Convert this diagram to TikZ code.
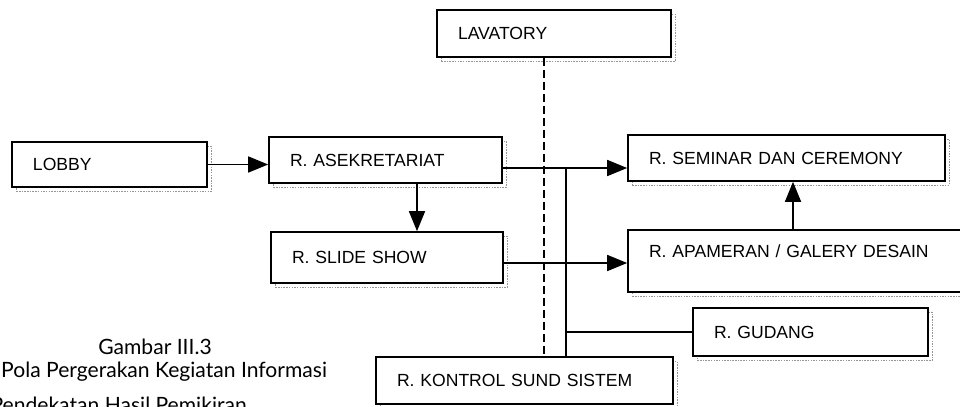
\documentclass[tikz,border=0pt]{standalone}
\usepackage{fontspec}
\setmainfont{Liberation Sans}
\newfontfamily\capfont{Lato}
\usetikzlibrary{arrows.meta,shadows}
\definecolor{ShadowGray}{RGB}{150,150,150}

\begin{document}
\begin{tikzpicture}[x=0.03cm, y=-0.03cm,
    room/.style={rectangle, draw=black, line width=1.4pt, fill=white,
                 inner xsep=0.63cm, inner ysep=0pt, align=left,
                 font=\fontsize{15}{17}\selectfont,
                 drop shadow={opacity=1, fill=none, draw=ShadowGray, densely dotted,
                              line width=1.3pt, shadow xshift=0.13cm, shadow yshift=-0.13cm}},
    arrow/.style={-{Triangle[length=0.6cm, width=0.48cm]}, line width=1.4pt},
    link/.style={line width=1.4pt},
    caption/.style={font=\capfont\fontsize{18}{21}\selectfont, inner sep=0pt}
]
    \useasboundingbox (0,0) rectangle (960,406);

    \node[room, text width=5.76cm, minimum height=1.41cm] (lav) at (554,33.5) {LAVATORY};
    \node[room, text width=4.59cm, minimum height=1.35cm] (lobby) at (109.5,164.5) {LOBBY};
    \node[room, text width=5.73cm, minimum height=1.38cm] (asek) at (385.5,160) {R. ASEKRETARIAT};
    \node[room, text width=5.70cm, minimum height=1.53cm] (slide) at (387,257.5) {R. SLIDE SHOW};
    \node[room, text width=8.25cm, minimum height=1.38cm] (seminar) at (786.5,158) {R. SEMINAR DAN CEREMONY};
    \node[room, text width=9.30cm, minimum height=1.86cm] (apameran) at (804,261) {R. APAMERAN / GALERY DESAIN\\\mbox{}};
    \node[room, text width=5.79cm, minimum height=1.44cm] (gudang) at (810.5,332) {R. GUDANG};
    \node[room, text width=7.65cm, minimum height=1.41cm] (kontrol) at (524.5,380.5) {R. KONTROL SUND SISTEM};

    % flow between rooms
    \draw[arrow] (lobby.east) -- (lobby.east -| asek.west);
    \draw[arrow] ([yshift=-0.24cm]asek.east) -- ([yshift=-0.24cm]asek.east -| seminar.west);
    \draw[arrow] ([xshift=0.945cm]asek.south) -- ([xshift=0.945cm]asek.south |- slide.north);
    \draw[arrow] ([yshift=-0.165cm]slide.east) -- ([yshift=-0.165cm]slide.east -| apameran.west);
    \draw[arrow] ([xshift=-0.33cm]apameran.north) -- ([xshift=-0.33cm]apameran.north |- seminar.south);

    % service line to kontrol and gudang
    \coordinate (trunk) at (566,168);
    \draw[link] (trunk) -- (trunk |- kontrol.north);
    \draw[link] (gudang.west) -- (gudang.west -| trunk);

    % lavatory link
    \draw[link, dash pattern=on 0.24cm off 0.12cm] ([xshift=-0.3cm]lav.south) -- ([xshift=-0.3cm]lav.south |- kontrol.north);

    % caption
    \node[caption] (cap1) at (155,347) {Gambar III.3};
    \node[caption, anchor=west] (cap2) at (1,372) {Pola Pergerakan Kegiatan Informasi};
    \node[caption, anchor=base east] (cap3) at (247,412) {Pendekatan Hasil Pemikiran};
\end{tikzpicture}
\end{document}
